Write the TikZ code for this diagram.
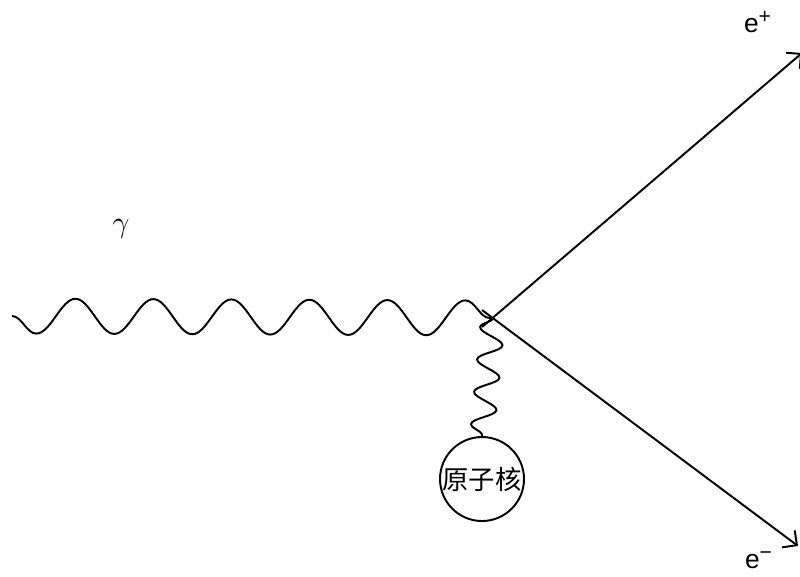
\documentclass[tikz,border=0pt]{standalone}
\usepackage{fontspec}
\setmainfont{Liberation Sans}
\newfontfamily\cjk{Noto Sans CJK SC}
\usetikzlibrary{decorations.pathmorphing,arrows.meta}
\begin{document}
\begin{tikzpicture}[x=0.02cm, y=-0.02cm, line width=1.1pt,
		photon/.style 2 args={decorate, decoration={snake, mirror, amplitude=#1, segment length=#2}},
		lepton/.style={-{Straight Barb[length=6pt, width=12pt]}},
		lbl/.style={font=\fontsize{15}{17}\selectfont}]
	\useasboundingbox (0,0) rectangle (800,576);
	\coordinate (v) at (493,318);
	\coordinate (gin) at (12,316);
	\coordinate (ep0) at (482,327);
	\coordinate (em0) at (482,310);
	\coordinate (ep1) at (802,53);
	\coordinate (em1) at (798,546);
	\node[circle, draw, minimum size=1.68cm, inner sep=0pt, font=\cjk\fontsize{15}{17}\selectfont] (nucleus) at (482,479) {原子核};
	\draw[photon={0.35cm}{1.56cm}] (gin) -- (v);
	\draw[photon={0.24cm}{0.65cm}] (v) -- (nucleus.north);
	\draw[lepton] (ep0) -- (ep1);
	\draw[lepton] (em0) -- (em1);
	\node[font=\fontsize{18}{20}\selectfont] (gamma) at (121,229) {$\gamma$};
	\node[lbl] (eplus) at (758,22) {e\textsuperscript{\large +}};
	\node[lbl] (eminus) at (759,560) {e\textsuperscript{\large −}};
\end{tikzpicture}
\end{document}
